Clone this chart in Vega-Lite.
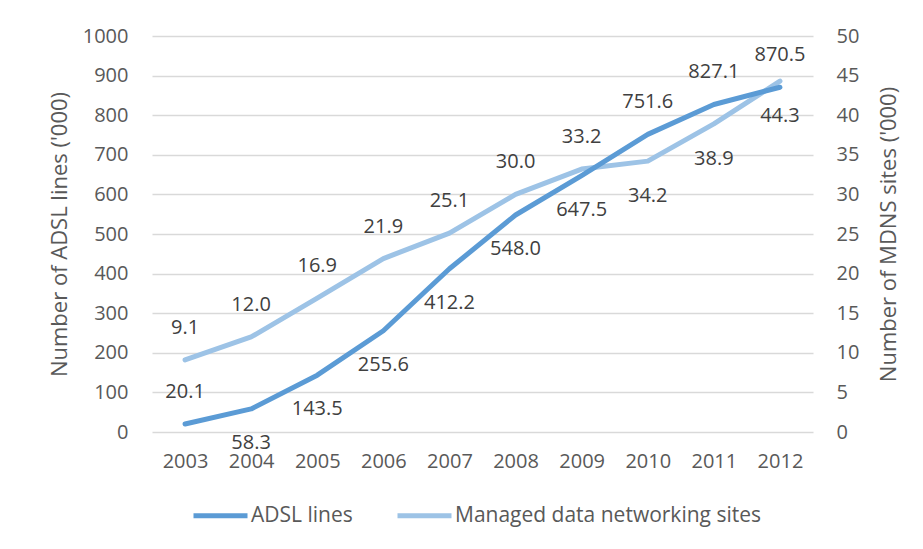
{
  "$schema": "https://vega.github.io/schema/vega-lite/v6.json",
  "width": 661,
  "height": 396,
  "autosize": "none",
  "padding": {"left": 152, "top": 36, "right": 110, "bottom": 117},
  "background": "white",
  "config": {
    "font": "Open Sans",
    "view": {"stroke": null},
    "legend": {
      "orient": "none",
      "legendX": 39,
      "legendY": 450,
      "direction": "horizontal",
      "title": null,
      "labelFont": "Open Sans",
      "labelFontSize": 21,
      "labelColor": "#595959",
      "symbolType": "stroke",
      "symbolSize": 2916,
      "symbolStrokeWidth": 5,
      "columnPadding": 34,
      "labelOffset": 1,
      "padding": 0,
      "labelLimit": 400
    }
  },
  "data": {
    "values": [
      {"year": "2003", "series": "ADSL lines", "value": 20.1},
      {"year": "2004", "series": "ADSL lines", "value": 58.3},
      {"year": "2005", "series": "ADSL lines", "value": 143.5},
      {"year": "2006", "series": "ADSL lines", "value": 255.6},
      {"year": "2007", "series": "ADSL lines", "value": 412.2},
      {"year": "2008", "series": "ADSL lines", "value": 548.0},
      {"year": "2009", "series": "ADSL lines", "value": 647.5},
      {"year": "2010", "series": "ADSL lines", "value": 751.6},
      {"year": "2011", "series": "ADSL lines", "value": 827.1},
      {"year": "2012", "series": "ADSL lines", "value": 870.5},
      {"year": "2003", "series": "Managed data networking sites", "value": 9.1},
      {"year": "2004", "series": "Managed data networking sites", "value": 12.0},
      {"year": "2005", "series": "Managed data networking sites", "value": 16.9},
      {"year": "2006", "series": "Managed data networking sites", "value": 21.9},
      {"year": "2007", "series": "Managed data networking sites", "value": 25.1},
      {"year": "2008", "series": "Managed data networking sites", "value": 30.0},
      {"year": "2009", "series": "Managed data networking sites", "value": 33.2},
      {"year": "2010", "series": "Managed data networking sites", "value": 34.2},
      {"year": "2011", "series": "Managed data networking sites", "value": 38.9},
      {"year": "2012", "series": "Managed data networking sites", "value": 44.3}
    ]
  },
  "encoding": {
    "x": {
      "field": "year",
      "type": "ordinal",
      "axis": {
        "title": null,
        "labelAngle": 0,
        "labelPadding": 19,
        "labelFontSize": 20,
        "labelColor": "#595959",
        "domain": false,
        "ticks": false,
        "grid": false
      }
    }
  },
  "layer": [
    {
      "transform": [{"filter": "datum.series === 'Managed data networking sites'"}],
      "encoding": {
        "y": {
          "field": "value",
          "type": "quantitative",
          "scale": {"domain": [0, 50], "nice": false},
          "axis": {
            "orient": "right",
            "values": [0, 5, 10, 15, 20, 25, 30, 35, 40, 45, 50],
            "format": "d",
            "title": "Number of MDNS sites ('000)",
            "titleFontSize": 22,
            "titleFontWeight": "normal",
            "titleColor": "#595959",
            "titleAngle": -90,
            "titleX": 75,
            "titleY": 198,
            "titleAlign": "center",
            "titleBaseline": "middle",
            "labelFontSize": 20,
            "labelColor": "#595959",
            "labelPadding": 23,
            "domain": false,
            "ticks": false,
            "grid": false
          }
        }
      },
      "layer": [
        {
          "mark": {"type": "line", "strokeWidth": 5, "strokeCap": "round", "strokeJoin": "round"},
          "encoding": {
            "color": {
              "field": "series",
              "type": "nominal",
              "scale": {"domain": ["ADSL lines", "Managed data networking sites"], "range": ["#5B9BD5", "#9DC3E6"]}
            }
          }
        },
        {
          "transform": [{"filter": "datum.year <= '2009'"}],
          "mark": {"type": "text", "fontSize": 20, "color": "#404040", "dy": -32, "baseline": "middle", "align": "center"},
          "encoding": {"text": {"field": "value", "type": "quantitative", "format": ".1f"}}
        },
        {
          "transform": [{"filter": "datum.year >= '2010'"}],
          "mark": {"type": "text", "fontSize": 20, "color": "#404040", "dy": 35, "baseline": "middle", "align": "center"},
          "encoding": {"text": {"field": "value", "type": "quantitative", "format": ".1f"}}
        }
      ]
    },
    {
      "transform": [{"filter": "datum.series === 'ADSL lines'"}],
      "encoding": {
        "y": {
          "field": "value",
          "type": "quantitative",
          "scale": {"domain": [0, 1000], "nice": false},
          "axis": {
            "orient": "left",
            "values": [0, 100, 200, 300, 400, 500, 600, 700, 800, 900, 1000],
            "format": "d",
            "title": "Number of ADSL lines ('000)",
            "titleFontSize": 22,
            "titleFontWeight": "normal",
            "titleColor": "#595959",
            "titleAngle": -90,
            "titleX": -93,
            "titleY": 198,
            "titleAlign": "center",
            "titleBaseline": "middle",
            "labelFontSize": 20,
            "labelColor": "#595959",
            "labelPadding": 24,
            "domain": false,
            "ticks": false,
            "grid": true,
            "gridColor": "#d9d9d9",
            "gridWidth": 1.5
          }
        }
      },
      "layer": [
        {
          "mark": {"type": "line", "strokeWidth": 5, "strokeCap": "round", "strokeJoin": "round"},
          "encoding": {
            "color": {
              "field": "series",
              "type": "nominal",
              "scale": {"domain": ["ADSL lines", "Managed data networking sites"], "range": ["#5B9BD5", "#9DC3E6"]}
            }
          }
        },
        {
          "transform": [{"filter": "datum.year === '2003' || datum.year >= '2010'"}],
          "mark": {"type": "text", "fontSize": 20, "color": "#404040", "dy": -32, "baseline": "middle", "align": "center"},
          "encoding": {"text": {"field": "value", "type": "quantitative", "format": ".1f"}}
        },
        {
          "transform": [{"filter": "datum.year > '2003' && datum.year < '2010'"}],
          "mark": {"type": "text", "fontSize": 20, "color": "#404040", "dy": 34, "baseline": "middle", "align": "center"},
          "encoding": {"text": {"field": "value", "type": "quantitative", "format": ".1f"}}
        }
      ]
    }
  ],
  "resolve": {"scale": {"y": "independent"}}
}
